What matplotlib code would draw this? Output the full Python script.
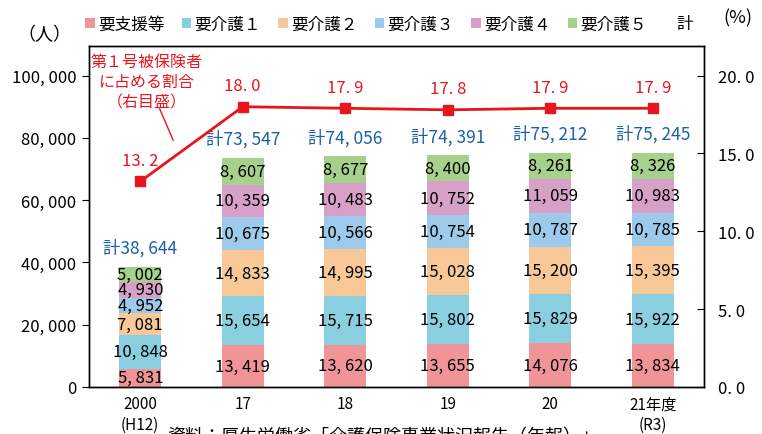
import matplotlib
matplotlib.use("Agg")
import matplotlib.pyplot as plt
from matplotlib.patches import Patch
from matplotlib.lines import Line2D
import numpy as np

plt.rcParams['font.family'] = ['Noto Sans CJK JP', 'DejaVu Sans']

years = ['2000\n(H12)', '17', '18', '19', '20', '21年度\n(R3)']
series_names = ['要支援等', '要介護１', '要介護２', '要介護３', '要介護４', '要介護５']
shien = [5831, 13419, 13620, 13655, 14076, 13834]
kaigo1 = [10848, 15654, 15715, 15802, 15829, 15922]
kaigo2 = [7081, 14833, 14995, 15028, 15200, 15395]
kaigo3 = [4952, 10675, 10566, 10754, 10787, 10785]
kaigo4 = [4930, 10359, 10483, 10752, 11059, 10983]
kaigo5 = [5002, 8607, 8677, 8400, 8261, 8326]
totals = [38644, 73547, 74056, 74391, 75212, 75245]
ratio = [13.2, 18.0, 17.9, 17.8, 17.9, 17.9]

colors = ['#F09498', '#8ACFE0', '#F8C898', '#9DC9EB', '#D6A0C8', '#A6D18C']
red = '#E8141E'
blue = '#1F5EA8'

def fmt(v):
    return f'{v:,}'.replace(',', ', ')

fig = plt.figure(figsize=(7.62, 4.35), dpi=100)
ax = fig.add_axes([89/762, 47/435, 615/762, 341/435])
ax2 = ax.twinx()

x = np.arange(len(years))
bottom = np.zeros(len(years))
for name, vals, c in zip(series_names, [shien, kaigo1, kaigo2, kaigo3, kaigo4, kaigo5], colors):
    vals = np.array(vals)
    ax.bar(x, vals, 0.41, bottom=bottom, color=c, edgecolor='none')
    for xi, b, v in zip(x, bottom, vals):
        ax.text(xi, b + v / 2, fmt(v), ha='center', va='center', fontsize=12, color='black')
    bottom += vals

for xi, t in zip(x, totals):
    ax.text(xi, t + 3200, '計' + fmt(t), ha='center', va='bottom', fontsize=12.5, color=blue)

ax.set_xlim(-0.5, 5.5)
ax.set_ylim(0, 109500)
ax.set_yticks(np.arange(0, 100001, 20000))
ax.set_yticklabels([fmt(v) for v in range(0, 100001, 20000)], fontsize=12)
ax.set_xticks(x)
ax.set_xticklabels(years, fontsize=11, linespacing=1.3)
ax.tick_params(axis='x', length=0, pad=6)
ax.tick_params(axis='y', direction='out', length=5, pad=4)

ax2.plot(x, ratio, color=red, lw=2, marker='s', ms=7, zorder=5)
for xi, r in zip(x, ratio):
    ax2.text(xi, r + 0.8, f'{r:.1f}'.replace('.', '. '), ha='center', va='bottom', fontsize=12, color=red)
ax2.set_ylim(0, 21.9)
ax2.set_yticks(np.arange(0, 20.1, 5))
ax2.set_yticklabels([f'{v:.1f}'.replace('.', '. ') for v in np.arange(0, 20.1, 5)], fontsize=12)
ax2.tick_params(axis='y', direction='in', length=5, pad=10)

for a in (ax, ax2):
    for s in a.spines.values():
        s.set_linewidth(1.0)
        s.set_color('black')

ax.text(0.06, 107200, '第１号被保険者\nに占める割合\n（右目盛）', ha='center', va='top',
        fontsize=11.5, color=red, linespacing=1.25, multialignment='center')
ax.plot([0.19, 0.32], [89300, 79300], color=red, lw=1)

handles = [Patch(facecolor=c, edgecolor='none') for c in colors]
handles.append(Line2D([], [], color='none'))
leg = fig.legend(handles, series_names + ['計'], loc='center left',
                 bbox_to_anchor=(77/762, 1 - 25/435), ncol=7, frameon=False,
                 fontsize=12, handlelength=0.55, handleheight=0.55,
                 handletextpad=0.2, columnspacing=1.05, borderpad=0)

fig.text(44/762, 1 - 35/435, '（人）', ha='center', va='center', fontsize=13)
fig.text(738/762, 1 - 18/435, '(%)', ha='center', va='center', fontsize=13)
fig.text(167/762, 1 - 428/435, '資料：厚生労働省「介護保険事業状況報告（年報）」', ha='left', va='top', fontsize=13)

fig.savefig('out.png', dpi=100)
